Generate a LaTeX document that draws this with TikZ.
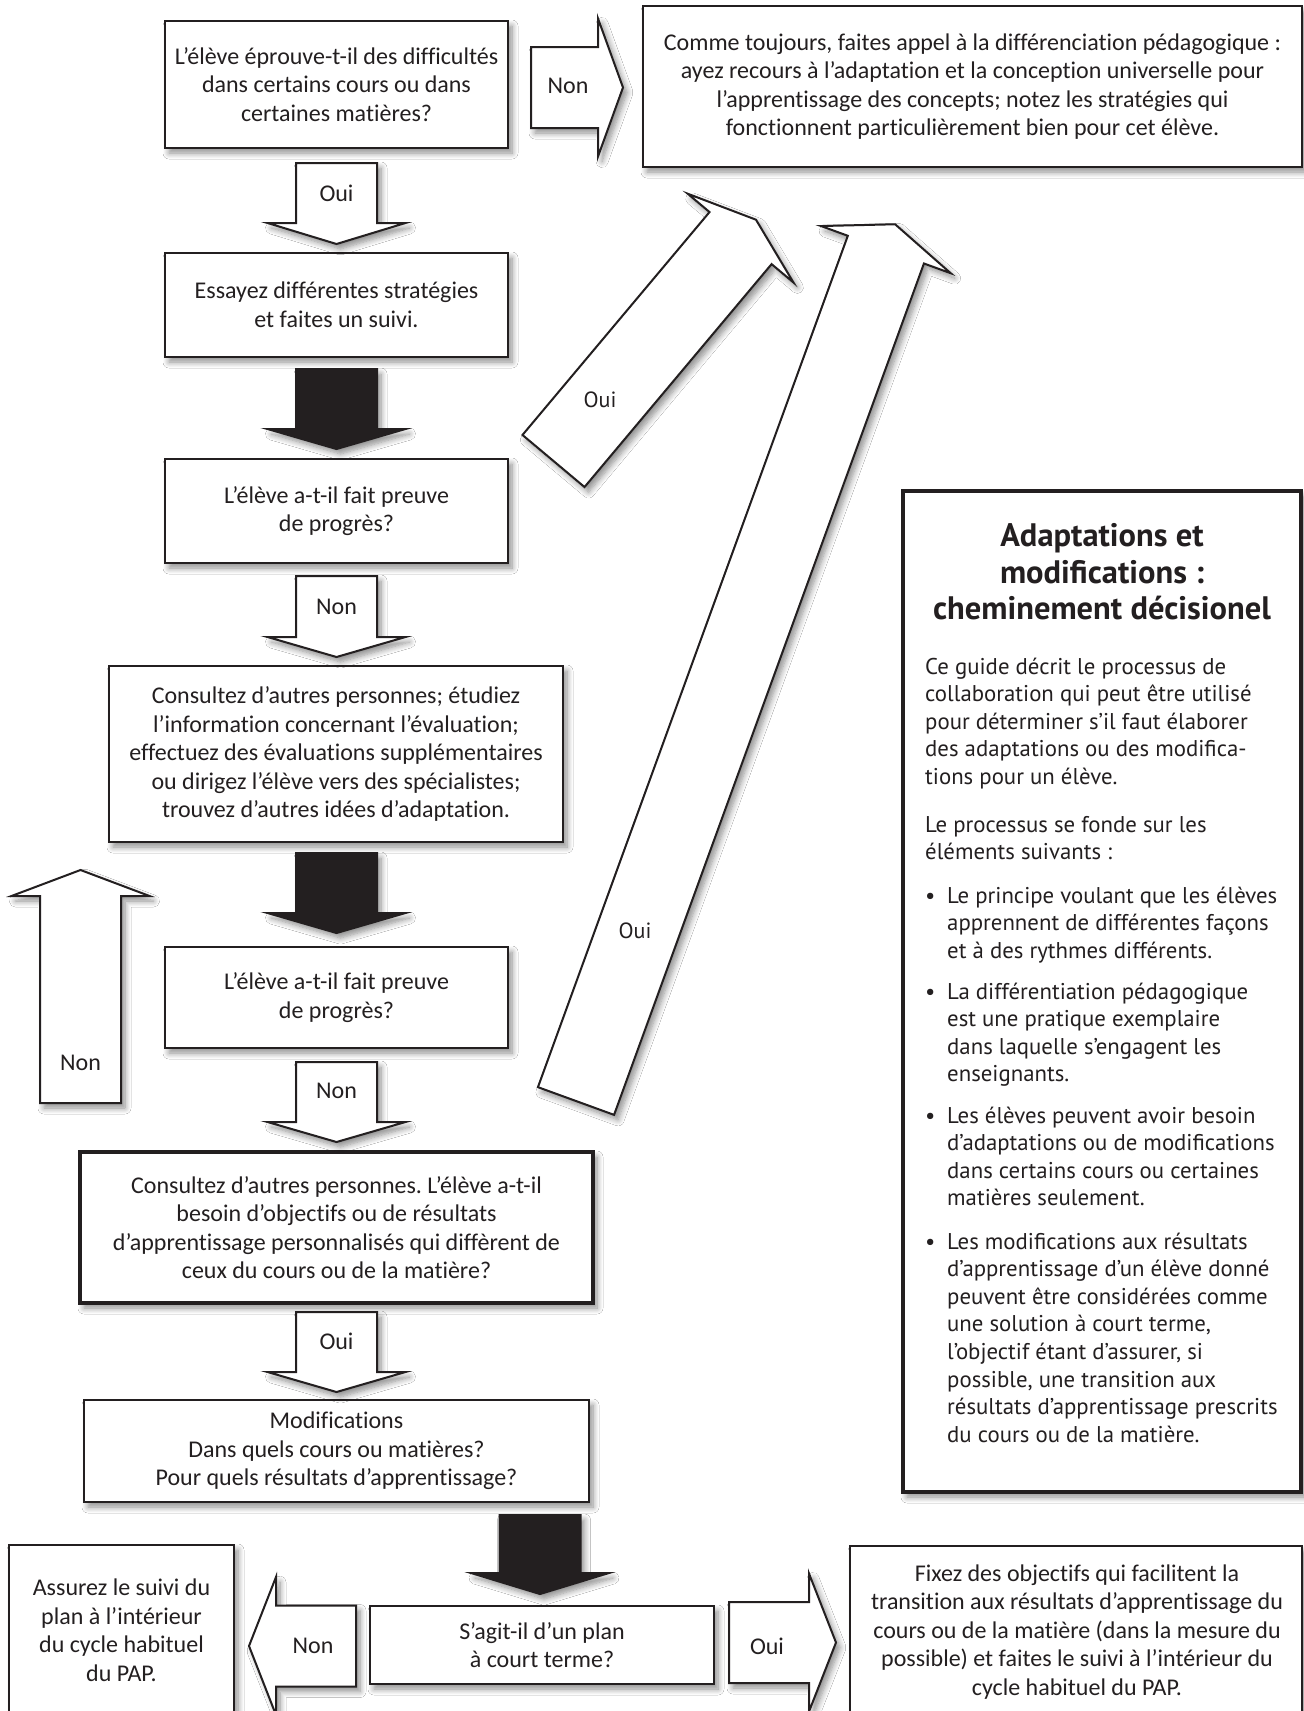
\documentclass[tikz,border=0pt]{standalone}
\usepackage{fontspec}
\setmainfont{Carlito}[Ligatures=NoCommon]
\newfontfamily\pfont{PT Sans}
\usetikzlibrary{shadows.blur}
\definecolor{ink}{HTML}{231F20}
\frenchspacing
\newcommand{\blkarrow}[7]{%
  \begin{scope}[shift={(#2,#3)}, rotate=#4]
    \path[#7] (0,-40.5) -- (#5,-40.5) -- (#5,-69) -- ({#5+#6},0) -- (#5,69) -- (#5,40.5) -- (0,40.5) -- cycle;
    \coordinate (#1) at ({#5/2},0);
  \end{scope}}
\newcommand{\plines}[4]{%
  \foreach \pl [count=\i from 0] in {#4} {%
    \node[ptext] (#1\i) at (#2,{#3+27.6*\i}) {\pl};}}
\tikzset{
  sh/.style={blur shadow={shadow xshift=4pt, shadow yshift=-5pt, shadow blur radius=6pt, shadow opacity=45, shadow blur steps=8}},
  box/.style={draw=ink, line width=2.2pt, fill=white, sh, align=center, inner sep=0pt,
    font=\fontsize{24}{28.5}\selectfont, text=ink},
  btext/.style={align=center, inner sep=0pt, font=\fontsize{24}{28.5}\selectfont, text=ink},
  warrow/.style={draw=ink, line width=2pt, line join=miter, fill=white, sh},
  barrow/.style={draw=ink, line width=2pt, fill=ink, sh},
  albl/.style={inner sep=0pt, font=\fontsize{24}{28.5}\selectfont, text=ink},
  dlbl/.style={inner sep=0pt, font=\pfont\fontsize{22}{26}\selectfont, text=ink},
  panelbox/.style={draw=ink, line width=4.5pt, fill=white, sh, inner sep=0pt},
  ptext/.style={anchor=base west, inner sep=0pt, font=\pfont\fontsize{22.8}{27}\selectfont, text=ink},
  ttext/.style={align=center, inner sep=0pt, font=\pfont\bfseries\fontsize{32.5}{36.5}\selectfont, text=ink}
}
\begin{document}
\begin{tikzpicture}[x=1pt,y=-1pt]
\useasboundingbox (0,0) rectangle (1304,1711);
\fill[white] (0,0) rectangle (1304,1711);
\clip (0,0) rectangle (1304,1711);

% diagonal arrows
\blkarrow{aA}{553.5}{461}{50}{291}{24}{warrow}
\blkarrow{aB}{576}{1101}{70}{906}{27}{warrow}
\node[dlbl] (lA) at (600,400) {Oui};
\node[dlbl] (lB) at (635,931) {Oui};

% boxes
\node[box, minimum width=343, minimum height=127] (b1) at (336.5,84.5)
  {L’élève éprouve-t-il des difficultés\\dans certains cours ou dans\\certaines matières?};
\node[box, minimum width=659, minimum height=161] (tr) at (972.5,86.5)
  {Comme toujours, faites appel à la différenciation pédagogique :\\ayez recours à l’adaptation et la conception universelle pour\\l’apprentissage des concepts; notez les stratégies qui\\fonctionnent particulièrement bien pour cet élève.};
\node[box, minimum width=343, minimum height=104] (b2) at (336.5,305)
  {Essayez différentes stratégies\\et faites un suivi.};
\node[box, minimum width=343, minimum height=104] (b3) at (336.5,511)
  {L’élève a-t-il fait preuve\\de progrès?};
\node[box, minimum width=454, minimum height=176] (b4) at (336,754)
  {Consultez d’autres personnes; étudiez\\l’information concernant l’évaluation;\\effectuez des évaluations supplémentaires\\ou dirigez l’élève vers des spécialistes;\\trouvez d’autres idées d’adaptation.};
\node[box, minimum width=343, minimum height=101] (b5) at (336.5,997.5)
  {L’élève a-t-il fait preuve\\de progrès?};
\node[box, line width=4pt, minimum width=513, minimum height=151] (b6) at (336.5,1227.5)
  {Consultez d’autres personnes. L’élève a-t-il\\besoin d’objectifs ou de résultats\\d’apprentissage personnalisés qui diffèrent de\\ceux du cours ou de la matière?};
\node[box, minimum width=505, minimum height=102] (b7) at (336.5,1451)
  {Modifications\\Dans quels cours ou matières?\\Pour quels résultats d’apprentissage?};
\node[box, minimum width=344, minimum height=78] (b8) at (542,1645)
  {S’agit-il d’un plan\\à court terme?};
\node[box, minimum width=225, minimum height=195] (b9) at (121.5,1642.5) {};
\node[btext] (t9) at (121.5,1630) {Assurez le suivi du\\plan à l’intérieur\\du cycle habituel\\du PAP.};
\node[box, minimum width=452, minimum height=194] (b10) at (1076,1643) {};
\node[btext] (t10) at (1077,1632) {Fixez des objectifs qui facilitent la\\transition aux résultats d’apprentissage du\\cours ou de la matière (dans la mesure du\\possible) et faites le suivi à l’intérieur du\\cycle habituel du PAP.};

% block arrows
\blkarrow{aNon1}{531}{87.5}{0}{67}{25}{warrow}
\node[albl] (lNon1) at (568,86) {Non};
\blkarrow{aOui1}{336.5}{163}{-90}{60}{21}{warrow}
\node[albl] (lOui1) at (336.5,193) {Oui};
\blkarrow{aBlk1}{336.5}{369}{-90}{60}{20}{barrow}
\blkarrow{aNon2}{336.5}{576}{-90}{61}{20}{warrow}
\node[albl] (lNon2) at (336.5,607) {Non};
\blkarrow{aBlk2}{336.5}{853}{-90}{60}{20}{barrow}
\blkarrow{aNon3}{336.5}{1062}{-90}{60}{20}{warrow}
\node[albl] (lNon3) at (336.5,1091) {Non};
\blkarrow{aOui4}{336.5}{1312}{-90}{60}{20}{warrow}
\node[albl] (lOui4) at (336.5,1341) {Oui};
\blkarrow{aBlk3}{540}{1515}{-90}{58}{21}{barrow}
\blkarrow{aNonL}{356}{1646}{180}{80}{27}{warrow}
\node[albl] (lNonL) at (313,1646) {Non};
\blkarrow{aOuiR}{729}{1642.5}{0}{80}{27}{warrow}
\node[albl] (lOuiR) at (767,1646) {Oui};
\blkarrow{aNonUp}{80.5}{1103}{90}{207}{26}{warrow}
\node[albl] (lNonUp) at (80.5,1063) {Non};

% side panel
\node[panelbox, minimum width=398, minimum height=1001] (panel) at (1102,991.5) {};
\node[ttext] (title) at (1102,572) {Adaptations et\\modifications :\\cheminement décisionel};
\plines{pa}{925}{674}{Ce guide décrit le processus de,collaboration qui peut être utilisé,pour déterminer s’il faut élaborer,des adaptations ou des modifica-,tions pour un élève.}
\plines{pb}{925}{832}{Le processus se fonde sur les,éléments suivants :}
\node[ptext] (bu1) at (925,903) {•};
\plines{pc}{947}{903}{Le principe voulant que les élèves,apprennent de différentes façons,et à des rythmes différents.}
\node[ptext] (bu2) at (925,999) {•};
\plines{pd}{947}{999}{La différentiation pédagogique,est une pratique exemplaire,dans laquelle s’engagent les,enseignants.}
\node[ptext] (bu3) at (925,1123) {•};
\plines{pe}{947}{1123}{Les élèves peuvent avoir besoin,d’adaptations ou de modifications,dans certains cours ou certaines,matières seulement.}
\node[ptext] (bu4) at (925,1249) {•};
\plines{pf}{947}{1249}{Les modifications aux résultats,d’apprentissage d’un élève donné,peuvent être considérées comme,{une solution à court terme,},{l’objectif étant d’assurer, si},{possible, une transition aux},résultats d’apprentissage prescrits,du cours ou de la matière.}
\end{tikzpicture}
\end{document}
